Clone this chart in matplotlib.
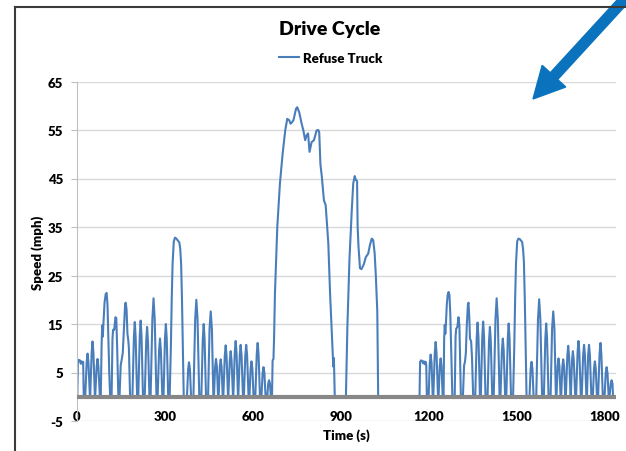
import matplotlib.pyplot as plt
from matplotlib import rcParams
from matplotlib.lines import Line2D
from matplotlib.patches import FancyArrow
from matplotlib.transforms import IdentityTransform

rcParams['font.family'] = ['Lato', 'DejaVu Sans']
rcParams['font.weight'] = 'bold'
rcParams['axes.unicode_minus'] = False  # plain hyphen for -5

chart_title = "Drive Cycle"
series_name = "Refuse Truck"
x_title = "Time (s)"
y_title = "Speed (mph)"
x_ticks = [0, 300, 600, 900, 1200, 1500, 1800]
y_ticks = [-5, 5, 15, 25, 35, 45, 55, 65]

# speed trace, one trip per line
time_s = [
    0, 1, 3, 6, 10, 13, 16, 19, 21, 23,
    28, 33, 36, 39, 44,
    45, 50, 53, 56, 61,
    62, 67, 70, 73, 78,
    81, 84, 86, 88, 90, 94, 98, 101, 104, 107, 110, 113,
    118, 121, 123, 127, 131, 134, 137, 141,
    145, 149, 152, 156, 160, 164, 166, 169, 172, 175, 177, 181,
    189, 194, 197, 200, 205,
    209, 214, 217, 220, 225,
    231, 236, 239, 242, 247,
    251, 257, 261, 265, 271,
    275, 280, 283, 286, 291,
    295, 300, 303, 306, 311,
    316, 320, 323, 326, 330, 334, 339, 344, 349, 352, 355, 358, 361, 364,
    375, 379, 382, 385, 389,
    397, 403, 407, 411, 417,
    424, 429, 432, 435, 440,
    447, 452, 456, 460, 465,
    467, 471, 474, 477, 481,
    483, 487, 490, 493, 497,
    499, 504, 507, 510, 515,
    516, 521, 524, 527, 532,
    533, 538, 541, 544, 549,
    550, 555, 558, 561, 566,
    569, 574, 577, 580, 585,
    588, 592, 595, 598, 602,
    608, 613, 616, 619, 624,
    629, 633, 636, 639, 643,
    649, 652, 655, 658, 661,
    665, 667, 670, 672, 675, 683, 692, 701, 710, 717, 724, 728, 732, 738,
    747, 751, 758, 766, 772, 778, 783, 788, 793, 800, 808, 817, 823, 826,
    830, 835, 842, 848, 857, 863, 868, 874, 876, 877, 879,
    917, 922, 929, 937, 942, 947, 951, 955, 957, 960, 965, 970, 978, 985,
    993, 999, 1005, 1010, 1015, 1019, 1024, 1027,
    1168, 1170, 1173, 1177, 1180, 1183, 1186, 1189, 1191, 1193,
    1199, 1203, 1206, 1209, 1213,
    1215, 1220, 1223, 1226, 1231,
    1233, 1237, 1240, 1243, 1247,
    1250, 1252, 1254, 1256, 1258, 1261, 1264, 1267, 1270, 1273, 1276, 1280,
    1288, 1291, 1293, 1297, 1301, 1304, 1309,
    1316, 1320, 1323, 1326, 1329, 1333, 1335, 1338, 1340, 1344, 1347, 1351,
    1358, 1363, 1366, 1369, 1374,
    1377, 1382, 1385, 1388, 1393,
    1400, 1405, 1408, 1411, 1416,
    1421, 1427, 1431, 1435, 1441,
    1444, 1449, 1452, 1455, 1460,
    1464, 1469, 1472, 1475, 1480,
    1487, 1491, 1494, 1497, 1501, 1505, 1510, 1514, 1518, 1521, 1524, 1527, 1530, 1533,
    1543, 1547, 1550, 1553, 1557,
    1566, 1572, 1576, 1580, 1586,
    1592, 1597, 1600, 1603, 1608,
    1615, 1620, 1624, 1628, 1633,
    1635, 1639, 1642, 1645, 1649,
    1651, 1655, 1658, 1661, 1665,
    1667, 1672, 1675, 1678, 1683,
    1684, 1688, 1691, 1694, 1699,
    1702, 1707, 1710, 1713, 1718,
    1721, 1726, 1729, 1732, 1737,
    1739, 1743, 1746, 1749, 1754,
    1759, 1763, 1766, 1769, 1773,
    1777, 1782, 1785, 1788, 1793,
    1799, 1803, 1806, 1809, 1813,
    1816, 1820, 1823, 1826, 1828,
]
speed_mph = [
    0, 0, 7.0, 7.6, 7.5, 6.8, 7.3, 6.9, 7.2, 0,
    0, 7.1, 8.9, 7.1, 0,
    0, 9.1, 11.4, 9.1, 0,
    0, 6.2, 7.8, 6.2, 0,
    0, 11, 14.7, 12.4, 15, 19.5, 21.2, 21.4, 19, 12, 5, 0,
    0, 12, 13.8, 13.8, 16.4, 16.2, 10, 0,
    0, 6.5, 7.5, 9, 14, 19, 19.4, 18, 13, 11.6, 10, 0,
    0, 12.3, 15.4, 12.3, 0,
    0, 12.6, 15.7, 12.6, 0,
    0, 11.5, 14.4, 11.5, 0,
    0, 16, 20.3, 16, 0,
    0, 9.6, 12, 9.6, 0,
    0, 12, 15, 12, 0,
    0, 10, 20, 27.5, 32, 32.8, 32.6, 32.2, 31.8, 30.5, 27.5, 20, 10, 0,
    0, 5.7, 7.1, 5.7, 0,
    0, 16, 20, 16, 0,
    0, 12, 15, 12, 0,
    0, 14, 17.6, 14, 0,
    0, 6.2, 7.8, 6.2, 0,
    0, 6.2, 7.7, 6.2, 0,
    0, 8.5, 10.6, 8.5, 0,
    0, 7.5, 9.4, 7.5, 0,
    0, 9.2, 11.5, 9.2, 0,
    0, 8.6, 10.7, 8.6, 0,
    0, 8.6, 10.7, 8.6, 0,
    0, 5.8, 7.3, 5.8, 0,
    0, 8.9, 11.1, 8.9, 0,
    0, 4.9, 6.1, 4.9, 0,
    0, 2.7, 3.4, 2.7, 0,
    0, 7.5, 7.8, 12, 21.3, 35, 44, 50, 54.9, 57.3, 57.0, 56.3, 56.5, 57.0,
    59.4, 59.7, 58.6, 56.3, 54.9, 52.9, 53.9, 54.3, 50.5, 52.5, 52.9, 54.9, 55.0, 54.5,
    48.0, 45.3, 40.5, 39.5, 31.6, 21.3, 14.4, 6.2, 8.0, 5.5, 0,
    0, 14.4, 28.2, 38.5, 44, 45.5, 44.7, 44.5, 35, 30.9, 26.5, 26.3, 27.3, 28.8,
    29.5, 31.3, 32.6, 32.3, 29.6, 25, 17.6, 0,
    0, 7.2, 7.5, 7.4, 6.9, 7.3, 6.7, 7.2, 6.5, 0,
    0, 7, 8.7, 7, 0,
    0, 9, 11.3, 9, 0,
    0, 6.3, 7.9, 6.3, 0,
    0, 12, 14.8, 13, 15, 19, 21, 21.6, 21, 17, 10, 0,
    0, 12.5, 14, 14.4, 16.4, 14.7, 0,
    0, 6.5, 7.2, 9, 14.4, 19, 19.4, 16, 12, 11.4, 8, 0,
    0, 12.2, 15.3, 12.2, 0,
    0, 12.4, 15.5, 12.4, 0,
    0, 11.5, 14.4, 11.5, 0,
    0, 16, 20.3, 16, 0,
    0, 9.6, 12, 9.6, 0,
    0, 12, 15.1, 12, 0,
    0, 10, 20, 27.5, 32, 32.6, 32.5, 32.2, 31.9, 30.5, 27.8, 20, 10, 0,
    0, 5.8, 7.2, 5.8, 0,
    0, 16, 20.1, 16, 0,
    0, 12, 15.1, 12, 0,
    0, 14, 17.6, 14, 0,
    0, 6.3, 7.9, 6.3, 0,
    0, 6.2, 7.7, 6.2, 0,
    0, 8.4, 10.5, 8.4, 0,
    0, 7.5, 9.4, 7.5, 0,
    0, 9.2, 11.5, 9.2, 0,
    0, 8.6, 10.7, 8.6, 0,
    0, 8.6, 10.7, 8.6, 0,
    0, 5.8, 7.3, 5.8, 0,
    0, 8.9, 11.1, 8.9, 0,
    0, 4.9, 6.1, 4.9, 0,
    0, 2.7, 3.4, 2.7, 0,
]

W, H = 626, 452
fig = plt.figure(figsize=(W / 100, H / 100), dpi=100)
ax = fig.add_axes([77 / W, 30 / H, 539 / W, 339.5 / H])

ax.plot(time_s, speed_mph, color='#4A7EBB', lw=1.5, label=series_name, zorder=2)
ax.axhline(0, color='#878787', lw=3, zorder=3)

ax.set_xlim(0, 1838)
ax.set_ylim(-5, 65)
ax.set_xticks(x_ticks)
ax.set_yticks(y_ticks)
ax.grid(axis='y', color='#D9D9D9', lw=1)
ax.set_axisbelow(True)
for side in ['top', 'right', 'bottom']:
    ax.spines[side].set_visible(False)
ax.spines['left'].set_color('#BFBFBF')
ax.spines['left'].set_linewidth(0.8)
ax.tick_params(axis='y', length=4, color='#BFBFBF', pad=6, labelsize=9.5)
ax.tick_params(axis='x', length=0, pad=-8, labelsize=9.5)
for lbl in ax.get_xticklabels() + ax.get_yticklabels():
    lbl.set_fontweight('heavy')

ax.set_xlabel(x_title, fontsize=9.5, fontweight='heavy')
ax.xaxis.set_label_coords(0.5, -0.02)
fig.text(38 / W, 1 - 253 / H, y_title, rotation=90, ha='center', va='center',
         fontsize=9.5, fontweight='heavy')
fig.text(330 / W, 1 - 30 / H, chart_title, ha='center', va='center', fontsize=14, fontweight='heavy')
leg = ax.legend(loc='center', bbox_to_anchor=(331 / W, 1 - 59 / H), bbox_transform=fig.transFigure,
                frameon=False, fontsize=9.5, handlelength=1.5, handletextpad=0.3)
for txt in leg.get_texts():
    txt.set_fontweight('heavy')

# frame edges of the screenshot
fig.add_artist(Line2D([15 / W, 15 / W], [0, 1 - 8 / H], color='#3A3A3A', lw=1.5))
fig.add_artist(Line2D([15 / W, 1], [1 - 8 / H, 1 - 8 / H], color='#3A3A3A', lw=1.5))

# blue pointer arrow (pixel coords)
arrow = FancyArrow(634, 462, -101, -110, width=10, head_width=32, head_length=31,
                   length_includes_head=True, color='#0B72BD', transform=IdentityTransform())
fig.add_artist(arrow)

fig.savefig('out.png', dpi=100)
